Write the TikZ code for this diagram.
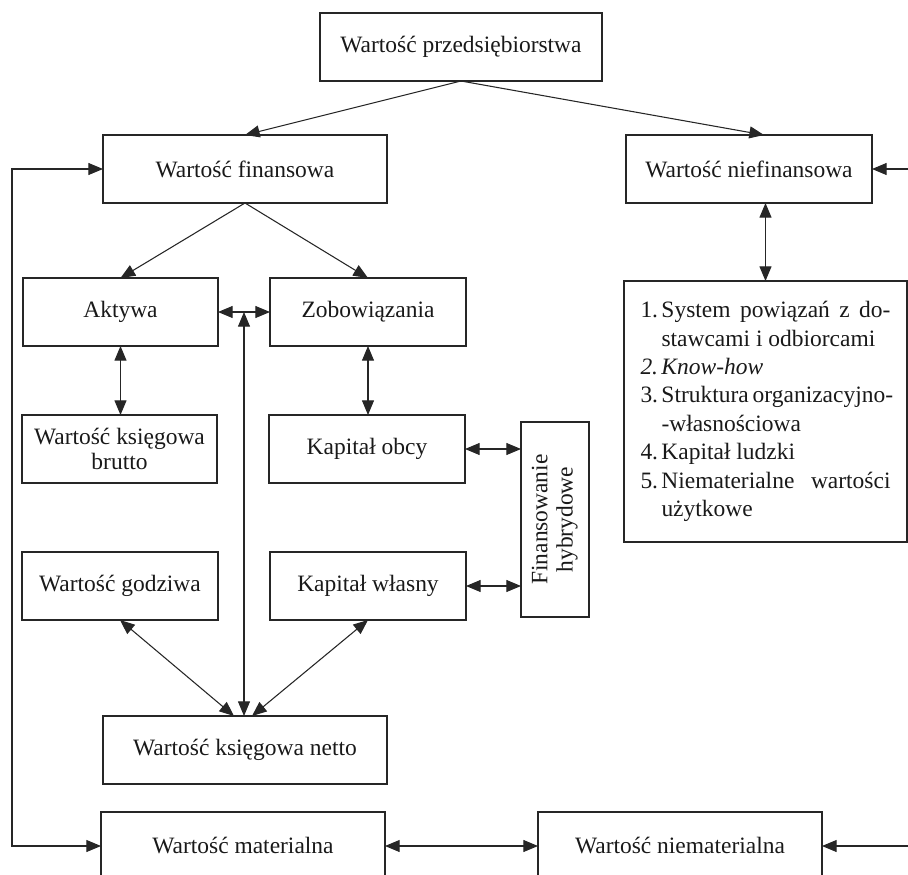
\documentclass[tikz,border=0pt]{standalone}
\usepackage{fontspec}
\usepackage{graphicx}
\setmainfont{Liberation Serif}
\usetikzlibrary{arrows.meta,calc}
\tikzset{
  box/.style 2 args={draw=black!85, line width=0.8pt, minimum width=#1*0.75pt, minimum height=#2*0.75pt,
    inner sep=0pt, outer sep=0pt, align=center, text=black!90,
    font=\fontsize{17.6pt}{18.8pt}\selectfont},
  link/.style={draw=black!85, line width=0.8pt},
  ar/.style={link, -{Triangle[length=11pt,width=9pt]}},
  dar/.style={link, {Triangle[length=11pt,width=9pt]}-{Triangle[length=11pt,width=9pt]}},
}
\begin{document}
\begin{tikzpicture}[x=0.75pt,y=-0.75pt]
\useasboundingbox (0,0) rectangle (908,875);
\clip (0,0) rectangle (908,875);

\node[box={282}{68}] (przed) at (461,47) {Wartość przedsiębiorstwa};
\node[box={284}{68}] (fin) at (245,169) {Wartość finansowa};
\node[box={246}{68}] (nief) at (749,169) {Wartość niefinansowa};
\node[box={195}{68}] (akt) at (120.5,312) {Aktywa};
\node[box={196}{68}] (zob) at (368,312) {Zobowiązania};
\node[box={195}{68}] (brutto) at (119.5,449) {Wartość księgowa\\brutto};
\node[box={196}{68}] (obcy) at (367,449) {Kapitał obcy};
\node[box={196}{68}] (godz) at (120,586) {Wartość godziwa};
\node[box={196}{68}] (wlas) at (368,586) {Kapitał własny};
\node[box={68}{195}] (finh) at (555,519.5) {\rotatebox{90}{\begin{tabular}{@{}c@{}}Finansowanie\\hybrydowe\end{tabular}}};
\node[box={284}{68}] (netto) at (245,750) {Wartość księgowa netto};
\node[box={284}{68}] (mat) at (243,846) {Wartość materialna};
\node[box={284}{68}] (niemat) at (680,846) {Wartość niematerialna};
\node[box={283}{261}, align=left, font=\fontsize{17.6pt}{21.3pt}\selectfont] (list) at (765.5,411.5) {%
\makebox[15.75pt][l]{1.}\makebox[171.75pt][s]{System powiązań z do-}\\
\hspace*{15.75pt}stawcami i odbiorcami\\
\makebox[15.75pt][l]{\itshape 2.}\textit{Know-how}\\
\makebox[15.75pt][l]{3.}\makebox[171.75pt][s]{Struktura organizacyjno-}\\
\hspace*{15.75pt}-własnościowa\\
\makebox[15.75pt][l]{4.}Kapitał ludzki\\
\makebox[15.75pt][l]{5.}\makebox[171.75pt][s]{Niematerialne wartości}\\
\hspace*{15.75pt}użytkowe};

\coordinate (lft) at (12,500);
\coordinate (rt1) at (908,169);
\coordinate (rt2) at (908,846);
\coordinate (vtop) at (244,312);

\draw[ar] (przed.south) -- (fin.north);
\draw[ar] (przed.south) -- ([xshift=11.25pt]nief.north);
\draw[ar] (fin.south) -- (akt.north);
\draw[ar] (fin.south) -- (zob.north);
\draw[ar] (rt1) -- (nief.east);
\draw[ar] (rt2) -- (niemat.east);
\draw[dar] (fin.west) -- (fin.west -| lft) -- (mat.west -| lft) -- (mat.west);
\draw[dar] (akt.east) -- (zob.west);
\draw[dar] (vtop) -- (vtop |- netto.north);
\draw[dar] (akt.south) -- (akt.south |- brutto.north);
\draw[dar] (zob.south) -- (zob.south |- obcy.north);
\draw[dar] (obcy.east) -- (obcy.east -| finh.west);
\draw[dar] (wlas.east) -- (wlas.east -| finh.west);
\draw[dar] (godz.south) -- ([xshift=-8.25pt]netto.north);
\draw[dar] (wlas.south) -- ([xshift=5.25pt]netto.north);
\draw[dar] (mat.east) -- (niemat.west);
\draw[dar] (list.north |- nief.south) -- (list.north);
\end{tikzpicture}
\end{document}
